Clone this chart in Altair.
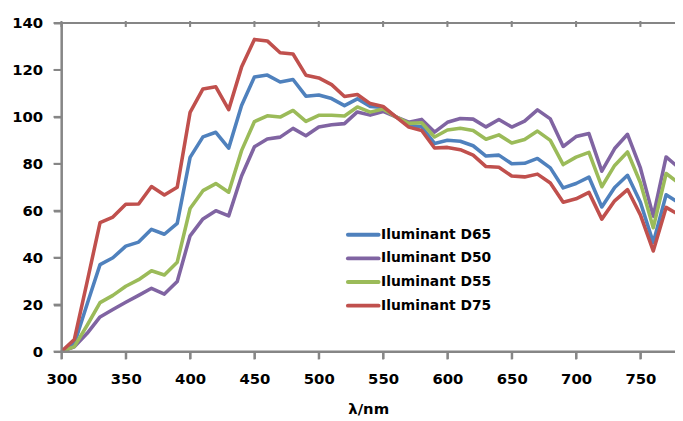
import altair as alt
import pandas as pd

wavelength = list(range(300, 790, 10))

d65 = [0.03, 3.29, 20.24, 37.05, 39.95, 44.91, 46.64, 52.09, 49.98, 54.65,
       82.75, 91.49, 93.43, 86.68, 104.86, 117.01, 117.81, 114.86, 115.92, 108.81,
       109.35, 107.80, 104.79, 107.69, 104.41, 104.05, 100.00, 96.33, 95.79, 88.69,
       90.01, 89.60, 87.70, 83.29, 83.70, 80.03, 80.21, 82.28, 78.28, 69.72,
       71.61, 74.35, 61.60, 69.89, 75.09, 63.59, 46.42, 66.81, 63.38]

d50 = [0.02, 2.05, 7.78, 14.75, 17.95, 21.01, 23.94, 26.96, 24.49, 29.87,
       49.31, 56.51, 60.03, 57.82, 74.82, 87.25, 90.61, 91.37, 95.11, 91.96,
       95.72, 96.61, 97.13, 102.10, 100.75, 102.32, 100.00, 97.74, 98.92, 93.50,
       97.69, 99.27, 99.04, 95.72, 98.86, 95.67, 98.19, 103.00, 99.13, 87.38,
       91.60, 92.89, 76.85, 86.51, 92.58, 78.23, 57.69, 82.92, 78.27]

d55 = [0.02, 2.07, 11.22, 20.84, 23.94, 27.84, 30.62, 34.41, 32.63, 38.09,
       60.95, 68.55, 71.58, 67.91, 85.61, 97.99, 100.46, 99.91, 102.74, 98.08,
       100.68, 100.69, 100.34, 104.22, 102.02, 103.33, 100.00, 97.22, 97.48, 91.43,
       94.42, 95.14, 94.22, 90.45, 92.33, 88.85, 90.32, 93.95, 89.96, 79.68,
       82.84, 84.84, 70.24, 79.30, 85.03, 71.92, 52.75, 75.87, 71.67]

d75 = [0.04, 5.13, 29.81, 54.94, 57.30, 62.74, 62.86, 70.31, 66.70, 70.04,
       101.93, 111.89, 112.80, 103.09, 121.20, 133.01, 132.36, 127.32, 126.80, 117.78,
       116.59, 113.72, 108.66, 109.55, 105.65, 104.42, 100.00, 95.62, 94.20, 86.75,
       86.99, 86.00, 83.68, 78.83, 78.52, 74.78, 74.42, 75.60, 71.81, 63.63,
       65.07, 67.82, 56.43, 64.23, 69.03, 58.23, 42.86, 61.43, 58.24]

series_names = ["Iluminant D65", "Iluminant D50", "Iluminant D55", "Iluminant D75"]
series_colors = ["#4F81BD", "#8064A2", "#9BBB59", "#C0504D"]
x_ticks = [300, 350, 400, 450, 500, 550, 600, 650, 700, 750]
y_ticks = [0, 20, 40, 60, 80, 100, 120, 140]

rows = []
for name, vals in zip(series_names, [d65, d50, d55, d75]):
    for w, v in zip(wavelength, vals):
        rows.append({"wl": w, "value": v, "series": name})
df = pd.DataFrame(rows)
legend_df = pd.DataFrame({"series": series_names})
xt_df = pd.DataFrame({"t": x_ticks})
yt_df = pd.DataFrame({"t": y_ticks})
one_df = pd.DataFrame({"k": [0]})

FONT = "DejaVu Sans"
AX = "#868686"
W, H = 620, 332

x_scale = alt.Scale(domain=[300, 776.9], nice=False, zero=False)
y_scale = alt.Scale(domain=[0, 140], nice=False)
color_enc = alt.Color("series:N",
                      scale=alt.Scale(domain=series_names, range=series_colors),
                      legend=None)

axis_common = dict(grid=False, domain=True, ticks=True,
                   domainColor=AX, domainWidth=2, tickColor=AX, tickWidth=2,
                   labelFont=FONT, labelFontWeight="bold", labelFontSize=15,
                   labelColor="#000000")

lines = alt.Chart(df).mark_line(
    strokeWidth=3.6, clip=True, strokeJoin="round", strokeCap="round"
).encode(
    x=alt.X("wl:Q", scale=x_scale,
            axis=alt.Axis(values=x_ticks, title="λ/nm", labelFlush=False,
                          tickSize=7, labelPadding=13, titlePadding=16,
                          titleFont=FONT, titleFontWeight="bold",
                          titleFontSize=15, titleColor="#000000", **axis_common)),
    y=alt.Y("value:Q", scale=y_scale,
            axis=alt.Axis(values=y_ticks, title=None, tickSize=8,
                          labelPadding=11, **axis_common)),
    color=color_enc,
)

# axis frame drawn as thin filled rectangles
rect_kw = dict(color=AX, fill=AX, opacity=1, strokeWidth=0)
left_bar = alt.Chart(one_df).mark_rect(**rect_kw).encode(
    x=alt.value(-1), x2=alt.value(1), y=alt.value(-1), y2=alt.value(H + 1))
bottom_bar = alt.Chart(one_df).mark_rect(**rect_kw).encode(
    x=alt.value(-1), x2=alt.value(W), y=alt.value(H - 1), y2=alt.value(H + 1))
top_bar = alt.Chart(one_df).mark_rect(**rect_kw).encode(
    x=alt.value(-1), x2=alt.value(W), y=alt.value(-1), y2=alt.value(1))
xt_bottom = alt.Chart(xt_df).transform_calculate(
    lo="datum.t - 0.8", hi="datum.t + 0.8"
).mark_rect(**rect_kw).encode(
    x=alt.X("lo:Q", scale=x_scale, axis=None), x2="hi:Q",
    y=alt.value(H), y2=alt.value(H + 8))
xt_top = alt.Chart(xt_df).transform_calculate(
    lo="datum.t - 0.8", hi="datum.t + 0.8"
).mark_rect(**rect_kw).encode(
    x=alt.X("lo:Q", scale=x_scale, axis=None), x2="hi:Q",
    y=alt.value(-2), y2=alt.value(4))
yt_left = alt.Chart(yt_df).transform_calculate(
    lo="datum.t - 0.42", hi="datum.t + 0.42"
).mark_rect(**rect_kw).encode(
    y=alt.Y("lo:Q", scale=y_scale, axis=None), y2="hi:Q",
    x=alt.value(-8), x2=alt.value(0))

leg_y = alt.Y("series:N", scale=alt.Scale(type="point", domain=series_names,
                                          range=[214, 285.6], padding=0),
              axis=None)

leg_lines = alt.Chart(legend_df).mark_rule(strokeWidth=4, strokeCap="round").encode(
    x=alt.value(289.5), x2=alt.value(320.5), y=leg_y, color=color_enc,
)

leg_text = alt.Chart(legend_df).mark_text(
    align="left", baseline="middle", font=FONT, fontWeight="bold",
    fontSize=14, color="#000000"
).encode(
    x=alt.value(323), y=leg_y, text="series:N",
)

chart = alt.layer(
    lines, left_bar, bottom_bar, top_bar, xt_bottom, xt_top, yt_left,
    leg_lines, leg_text
).resolve_axis(
    x="independent", y="independent"
).resolve_scale(y="independent").properties(
    width=W, height=H,
    autosize=alt.AutoSizeParams(type="none"),
    padding={"left": 54, "top": 13, "right": 0, "bottom": 66},
).configure_view(stroke=None)

chart.save("out.html", embed_options={"renderer": "svg", "actions": False})
